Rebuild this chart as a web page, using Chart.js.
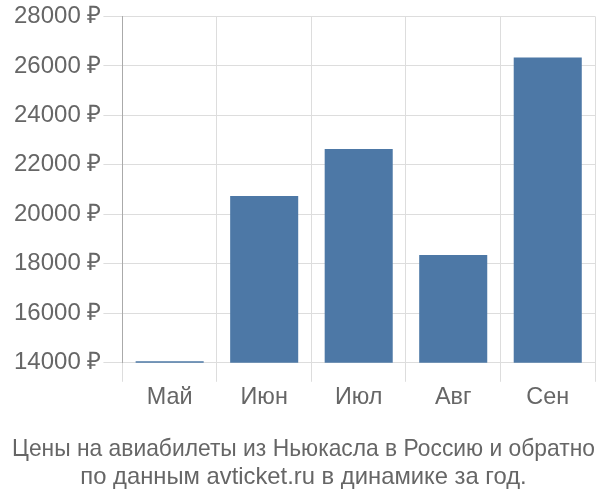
<!DOCTYPE html>
<html>
<head>
<meta charset="utf-8">
<script src="https://cdn.jsdelivr.net/npm/chart.js@4.4.1/dist/chart.umd.min.js"></script>
<style>
  html, body { margin: 0; padding: 0; background: #fff; }
  #wrap { width: 600px; height: 500px; }
</style>
</head>
<body>
<div id="wrap"><canvas id="chart"></canvas></div>
<script>
// data
const months = ['Май', 'Июн', 'Июл', 'Авг', 'Сен'];
const prices = [14060, 20740, 22640, 18360, 26340];
const yMin = 14000;
const yMax = 28000;
const yStep = 2000;
const titleLines = [
    'Цены на авиабилеты из Ньюкасла в Россию и обратно',
    'по данным avticket.ru в динамике за год.'
];

Chart.defaults.font.family = '"Liberation Sans", Arial, sans-serif';
Chart.defaults.color = '#666';

new Chart(document.getElementById('chart'), {
    type: 'bar',
    data: {
        labels: months,
        datasets: [{
            data: prices,
            backgroundColor: '#4d78a6',
            categoryPercentage: 0.72,
            barPercentage: 1.0
        }]
    },
    options: {
        responsive: true,
        maintainAspectRatio: false,
        animation: false,
        layout: { padding: { top: 4, right: 5, left: 12, bottom: 0 } },
        plugins: {
            legend: { display: false },
            tooltip: { enabled: false },
            title: {
                display: true,
                position: 'bottom',
                text: titleLines,
                color: '#666',
                font: { size: 23.8, weight: 'normal' },
                lineHeight: 1.18,
                padding: { top: 21, bottom: 8 }
            }
        },
        scales: {
            x: {
                grid: { offset: true, color: '#dddddd', tickLength: 19 },
                border: { display: false },
                ticks: { font: { size: 23.4 }, color: '#666', padding: 2 }
            },
            y: {
                min: yMin,
                max: yMax,
                ticks: {
                    stepSize: yStep,
                    font: { size: 24 },
                    color: '#666',
                    padding: 2,
                    callback: v => v + ' ₽'
                },
                grid: { color: '#dddddd', tickLength: 19 },
                border: { color: '#aaaaaa' }
            }
        }
    }
});
</script>
</body>
</html>
